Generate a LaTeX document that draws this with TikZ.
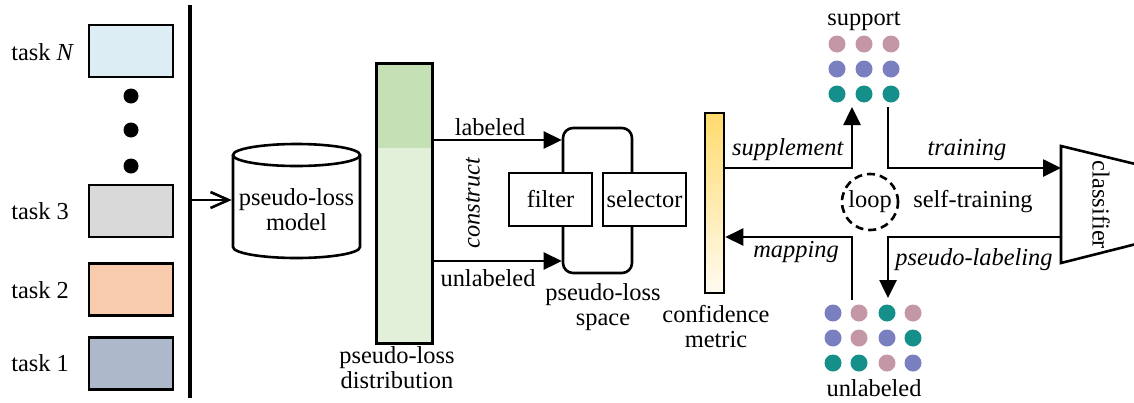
\documentclass[tikz,border=0pt]{standalone}
\usepackage{fontspec}
\setmainfont{Liberation Serif}
\usetikzlibrary{arrows.meta,calc}
\definecolor{cN}{HTML}{DCEEF4}
\definecolor{cThree}{HTML}{D9D9D9}
\definecolor{cTwo}{HTML}{F8CBAD}
\definecolor{cOne}{HTML}{ADB9CA}
\definecolor{dTop}{HTML}{C5E0B4}
\definecolor{dBot}{HTML}{E2F0D9}
\definecolor{gTop}{HTML}{FFDB6E}
\definecolor{gBot}{HTML}{FFFBF0}
\definecolor{pk}{HTML}{C497A6}
\definecolor{pu}{HTML}{7A7FC0}
\definecolor{te}{HTML}{148F8A}
\begin{document}
\begin{tikzpicture}[x=0.5pt,y=-0.5pt,line width=1.3pt,
  font=\fontsize{12.2}{12.5}\selectfont,
  taskbox/.style={draw,line width=1.2pt,minimum width=42pt,minimum height=26pt,inner sep=0pt},
  bigdot/.style={circle,fill=black,minimum size=7.5pt,inner sep=0pt},
  cdot/.style={circle,fill=#1,minimum size=8.5pt,inner sep=0pt},
  arr/.style={-{Triangle[length=9pt,width=8.5pt]}},
  innerbox/.style={draw,fill=white,minimum width=41.5pt,minimum height=26.5pt,inner sep=0pt},
  lbl/.style={inner sep=1pt}]
\useasboundingbox (0,0) rectangle (1134,402);
% tasks
\node[taskbox,fill=cN] (tN) at (131,51) {};
\node[taskbox,fill=cThree] (t3) at (131,211) {};
\node[taskbox,fill=cTwo] (t2) at (131,289.5) {};
\node[taskbox,fill=cOne] (t1) at (131,363.5) {};
\node[lbl,anchor=west] (lN) at (8,52) {task \textit{N}};
\node[lbl,anchor=west] (l3) at (8,211) {task 3};
\node[lbl,anchor=west] (l2) at (8,290) {task 2};
\node[lbl,anchor=west] (l1) at (8,363) {task 1};
\node[bigdot] (d1) at (131,96) {};
\node[bigdot] (d2) at (131,130) {};
\node[bigdot] (d3) at (131,166) {};
% bus
\coordinate (busT) at (190,5);
\coordinate (busB) at (190,398);
\coordinate (busM) at (190,200);
\draw[line width=1.65pt] (busT) -- (busB);
% cylinder
\draw (233,155) -- (233,247) arc[start angle=180,end angle=0,x radius=63.5,y radius=11] -- (360,155);
\draw (296.5,155) ellipse [x radius=63.5,y radius=11];
\node[minimum width=63.5pt,minimum height=46pt,inner sep=0pt] (cyl) at (296.5,200) {};
\node[align=center] (cyltxt) at (296.5,210) {pseudo-loss\\model};
\draw[-{Straight Barb[length=9pt,width=8pt]}] (busM) -- (cyl.west);
% distribution
\node[fill=dBot,minimum width=26.5pt,minimum height=138.5pt,inner sep=0pt] (dist) at (404.5,203.5) {};
\fill[dTop] (dist.north west) rectangle ($(dist.north east)+(0,84)$);
\draw (dist.north west) rectangle (dist.south east);
\node[align=center] (disttxt) at (397,368) {pseudo-loss\\distribution};
% pseudo-loss space
\node[draw,rounded corners=5pt,minimum width=34.5pt,minimum height=72.5pt,inner sep=0pt] (space) at (597.5,200.5) {};
\node[innerbox] (filter) at (550.5,199.5) {filter};
\node[innerbox] (selector) at (644.5,199.5) {selector};
\node[align=center] (spacetxt) at (603,307) {pseudo-loss\\space};
\draw[arr] (dist.east |- 0,140) -- (space.west |- 0,140);
\draw[arr] (dist.east |- 0,261) -- (space.west |- 0,261);
\node[lbl] (labtxt) at (490,127) {labeled};
\node[lbl] (unltxt) at (488,278) {unlabeled};
\node[lbl,rotate=90] (constxt) at (473,203) {\textit{construct}};
% confidence
\shade[top color=gTop,bottom color=gBot] (705,113) rectangle (724,293);
\node[draw,minimum width=9.5pt,minimum height=90pt,inner sep=0pt] (conf) at (714.5,203) {};
\node[align=center] (conftxt) at (716,327) {confidence\\metric};
% support dots
\node (suptxt) at (864,21) {support};
\foreach \c [count=\i] in {837,864,891} {
  \node[cdot=pk] (s1\i) at (\c,44) {};
  \node[cdot=pu] (s2\i) at (\c,69) {};
  \node[cdot=te] (s3\i) at (\c,94) {};
}
% unlabeled dots
\node[cdot=pu] (u11) at (833,313) {};
\node[cdot=pk] (u12) at (859,313) {};
\node[cdot=te] (u13) at (887,313) {};
\node[cdot=pk] (u14) at (913,313) {};
\node[cdot=pu] (u21) at (833,338) {};
\node[cdot=pk] (u22) at (859,338) {};
\node[cdot=pu] (u23) at (887,338) {};
\node[cdot=te] (u24) at (913,338) {};
\node[cdot=te] (u31) at (833,363) {};
\node[cdot=te] (u32) at (859,363) {};
\node[cdot=pk] (u33) at (887,363) {};
\node[cdot=pu] (u34) at (913,363) {};
\node (unlbtxt) at (874,388) {unlabeled};
% classifier
\begin{scope}
\clip (0,0) rectangle (1134,402);
\draw (1061,146) -- (1160,170) -- (1160,238) -- (1061,263) -- cycle;
\end{scope}
\coordinate (cls) at (1061,205);
\node[rotate=-90] (clstxt) at (1101,205) {classifier};
% loop arrows
\coordinate (supIn) at (852,107);
\coordinate (supOut) at (888,107);
\coordinate (unlIn) at (888,298);
\coordinate (unlOut) at (852,300);
\draw[arr] (conf.east |- 0,168) -| (supIn);
\draw[arr] (supOut) |- (cls |- 0,168);
\draw[arr] (cls |- 0,237) -| (unlIn);
\draw[arr] (unlOut) |- (conf.east |- 0,237);
\node[lbl] (supptxt) at (788,150) {\textit{supplement}};
\node[lbl] (traintxt) at (967,150) {\textit{training}};
\node[lbl] (maptxt) at (796,252) {\textit{mapping}};
\node[lbl] (pltxt) at (974,260) {\textit{pseudo-labeling}};
\node[circle,draw,dash pattern=on 4pt off 2.5pt,minimum size=28pt,inner sep=0pt] (loop) at (870,202) {loop};
\node (sttxt) at (973,202) {self-training};
\end{tikzpicture}
\end{document}
